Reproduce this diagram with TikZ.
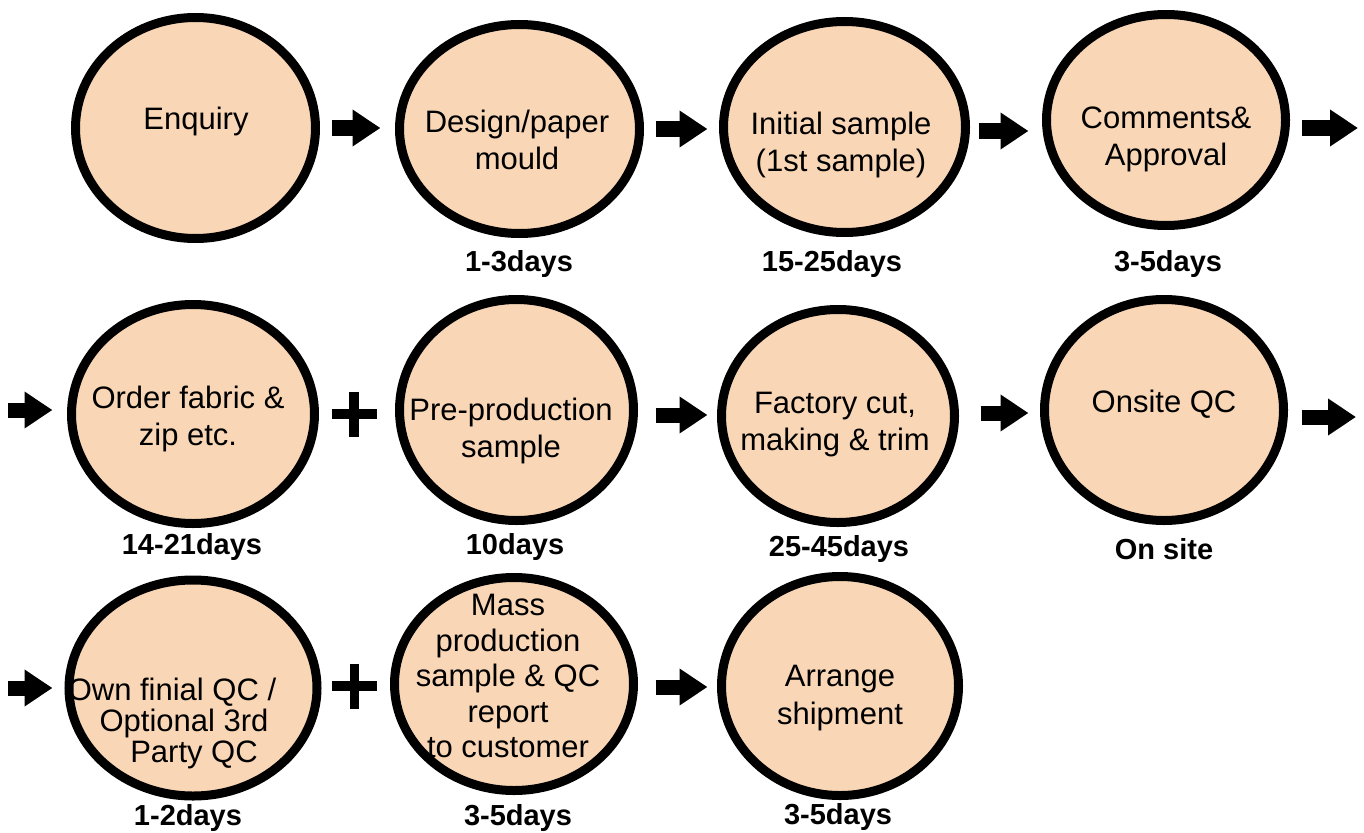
\documentclass[tikz,border=0pt]{standalone}
\usepackage{fontspec}
\setmainfont{Liberation Sans}
\usetikzlibrary{shapes.geometric,arrows.meta,calc}
\definecolor{peach}{RGB}{249,214,181}
\begin{document}
\begin{tikzpicture}[x=1pt,y=-1pt,
  stage/.style={ellipse, draw=black, line width=9pt, fill=peach, inner sep=0pt},
  txt/.style={align=center, inner sep=0pt, text=black, font=\fontsize{31}{37}\selectfont},
  lbl/.style={inner sep=0pt, text=black, font=\bfseries\fontsize{29}{34}\selectfont},
  blockarrow/.style={line width=15pt, -{Triangle[length=28pt,width=35pt]}},
  plusbar/.style={line width=9.5pt}]
\fill[white] (0,0) rectangle (1364,832);
\useasboundingbox (0,0) rectangle (1364,832);

% row 1
\node[stage, minimum width=240pt, minimum height=221pt] (enq) at (195.5,128) {};
\node[stage, minimum width=240pt, minimum height=209pt] (des) at (519.5,129) {};
\node[stage, minimum width=242pt, minimum height=211pt] (ini) at (844.5,127) {};
\node[stage, minimum width=239pt, minimum height=211pt] (com) at (1166,120) {};
% row 2
\node[stage, minimum width=243pt, minimum height=219pt] (ord) at (193,414) {};
\node[stage, minimum width=234pt, minimum height=221pt] (pre) at (516.5,410) {};
\node[stage, minimum width=233pt, minimum height=213pt] (fac) at (838,416) {};
\node[stage, minimum width=239pt, minimum height=221pt] (ons) at (1164,410) {};
% row 3
\node[stage, minimum width=248pt, minimum height=216pt] (own) at (193,688) {};
\node[stage, minimum width=239pt, minimum height=213pt] (mas) at (514,684) {};
\node[stage, minimum width=237pt, minimum height=219pt] (arr) at (840,686) {};

% texts
\node[txt] (tenq) at (196,121) {Enquiry};
\node[txt] (tdes) at (517,140) {Design/paper\\mould};
\node[txt] (tini) at (841,145) {Initial sample\\(1st sample)};
\node[txt] (tcom) at (1166,139) {Comments\&\\Approval};
\node[txt] (tord) at (188,419) {Order fabric \&\\zip etc.};
\node[txt] (tpre) at (511,431) {Pre-production\\sample};
\node[txt] (tfac) at (835,425) {Factory cut,\\making \& trim};
\node[txt] (tons) at (1164,404) {Onsite QC};
\node[txt, font=\fontsize{31}{31}\selectfont] (town) at (184,723) {Own finial QC /\hspace*{24pt}\\Optional 3rd\\\hspace*{20pt}Party QC};
\node[txt, font=\fontsize{31}{35.5}\selectfont] (tmas) at (508,676) {Mass\\production\\sample \& QC\\report\\to customer};
\node[txt, font=\fontsize{31}{38}\selectfont] (tarr) at (840,698) {Arrange\\shipment};

% labels
\node[lbl] (l1) at (519,264) {1-3days};
\node[lbl] (l2) at (832,264) {15-25days};
\node[lbl] (l3) at (1168,264) {3-5days};
\node[lbl] (l4) at (192,547) {14-21days};
\node[lbl] (l5) at (515,547) {10days};
\node[lbl] (l6) at (839,549) {25-45days};
\node[lbl] (l7) at (1164,549) {On site};
\node[lbl] (l8) at (188,818) {1-2days};
\node[lbl] (l9) at (518,818) {3-5days};
\node[lbl] (l10) at (838,817) {3-5days};

% arrows row 1
\draw[blockarrow, shorten <=11.5pt, shorten >=14.5pt] (enq.east) -- (enq.east -| des.west);
\draw[blockarrow, shorten <=11.5pt, shorten >=11.5pt] (des.east) -- (des.east -| ini.west);
\draw[blockarrow, shorten <=8.5pt, shorten >=13.5pt] ($(ini.east)+(0,4)$) -- ($(ini.east -| com.west)+(0,4)$);
\coordinate (r1out) at (1358,128);
\draw[blockarrow, shorten <=11.5pt] (com.east |- r1out) -- (r1out);
% arrows row 2
\coordinate (r2in) at (8,410);
\draw[blockarrow, shorten >=14.5pt] (r2in) -- (r2in -| ord.west);
\coordinate (plus1) at (354,414);
\draw[plusbar] ($(plus1)+(-22.5,0)$) -- ($(plus1)+(22.5,0)$);
\draw[plusbar] ($(plus1)+(0,-22.5)$) -- ($(plus1)+(0,22.5)$);
\draw[blockarrow, shorten <=17.5pt, shorten >=9.5pt] ($(pre.east)+(0,5)$) -- ($(pre.east -| fac.west)+(0,5)$);
\draw[blockarrow, shorten <=21.5pt, shorten >=11.5pt] ($(fac.east)+(0,-3)$) -- ($(fac.east -| ons.west)+(0,-3)$);
\coordinate (r2out) at (1356,417);
\draw[blockarrow, shorten <=13.5pt] (ons.east |- r2out) -- (r2out);
% arrows row 3
\coordinate (r3in) at (8,688);
\draw[blockarrow, shorten >=12pt] (r3in) -- (r3in -| own.west);
\coordinate (plus2) at (354.5,686);
\draw[plusbar] ($(plus2)+(-22.5,0)$) -- ($(plus2)+(22.5,0)$);
\draw[plusbar] ($(plus2)+(0,-22.5)$) -- ($(plus2)+(0,22.5)$);
\draw[blockarrow, shorten <=17.5pt, shorten >=9.5pt] ($(mas.east)+(0,3)$) -- ($(mas.east -| arr.west)+(0,3)$);
\end{tikzpicture}
\end{document}
